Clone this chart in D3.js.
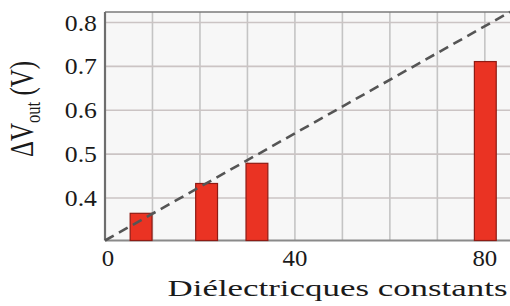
<!DOCTYPE html>
<html>
<head>
<meta charset="utf-8">
<script src="https://cdn.jsdelivr.net/npm/d3@7"></script>
<style>
  body { margin: 0; background: #fff; }
</style>
</head>
<body>
<svg id="chart" width="510" height="306"></svg>
<script>
// dielectric constant of each sample and the measured output shift
var constants = [7.6, 21.4, 32, 80.1];
var deltaV = [0.365, 0.433, 0.479, 0.711];
// dashed guide line, two ends
var trendX = [0, 85.3];
var trendY = [0.303, 0.824];
var xTicks = [0, 40, 80];
var xGrid = [10, 20, 30, 40, 50, 60, 70, 80];
var yTicks = [0.4, 0.5, 0.6, 0.7, 0.8];
var barWidth = 4.6;

var serif = "Liberation Serif";
var svg = d3.select('#chart');
var x = d3.scaleLinear().domain([0, 85.3]).range([105, 510]);
var y = d3.scaleLinear().domain([0.303, 0.824]).range([240.5, 12]);

// plot background
svg.append('rect').attr('x', x(0)).attr('y', y(0.824))
  .attr('width', x(85.3) - x(0)).attr('height', y(0.303) - y(0.824))
  .attr('fill', '#f7f7f7');

// grid
svg.selectAll('.vg').data(xGrid).enter().append('line')
  .attr('x1', function(d){ return x(d); }).attr('x2', function(d){ return x(d); })
  .attr('y1', y(0.824)).attr('y2', y(0.303))
  .attr('stroke', '#c4c4c4').attr('stroke-width', 1.6);
svg.selectAll('.hg').data(yTicks).enter().append('line')
  .attr('x1', x(0)).attr('x2', x(85.3))
  .attr('y1', function(d){ return y(d); }).attr('y2', function(d){ return y(d); })
  .attr('stroke', '#cbc4c4').attr('stroke-width', 1.6);

// frame
svg.append('line').attr('x1', x(0)).attr('x2', x(85.3)).attr('y1', y(0.824)).attr('y2', y(0.824))
  .attr('stroke', '#7a7a7a').attr('stroke-width', 1.5);
svg.append('line').attr('x1', x(0)).attr('x2', x(85.3)).attr('y1', y(0.303)).attr('y2', y(0.303))
  .attr('stroke', '#8a8a8a').attr('stroke-width', 2);
svg.append('line').attr('x1', x(0)).attr('x2', x(0)).attr('y1', y(0.824)).attr('y2', y(0.303))
  .attr('stroke', '#6e6e6e').attr('stroke-width', 2.2);

// bars
svg.selectAll('.bar').data(constants).enter().append('rect')
  .attr('x', function(d){ return x(d - barWidth / 2); })
  .attr('width', x(barWidth) - x(0))
  .attr('y', function(d, i){ return y(deltaV[i]); })
  .attr('height', function(d, i){ return y(0.303) - y(deltaV[i]); })
  .attr('fill', '#ea3323').attr('stroke', '#8e1b14').attr('stroke-width', 1.2);

// dashed line
var pts = trendX.map(function(d, i){ return [d, trendY[i]]; });
svg.append('path').datum(pts)
  .attr('d', d3.line().x(function(d){ return x(d[0]); }).y(function(d){ return y(d[1]); }))
  .attr('fill', 'none').attr('stroke', '#555').attr('stroke-width', 2.6)
  .attr('stroke-dasharray', '10,6');

// tick labels
svg.selectAll('.yt').data(yTicks).enter().append('text')
  .attr('text-anchor', 'end').attr('font-size', 23).attr('font-family', serif).attr('fill', '#1a1a1a')
  .attr('transform', function(d){ return 'translate(97,' + (y(d) + 8) + ') scale(1.12,1)'; })
  .text(function(d){ return d3.format('.1f')(d); });
svg.selectAll('.xt').data(xTicks).enter().append('text')
  .attr('text-anchor', 'middle').attr('font-size', 23).attr('font-family', serif).attr('fill', '#1a1a1a')
  .attr('transform', function(d){ return 'translate(' + (x(d) + (d === 0 ? 3 : 0)) + ',266) scale(1.08,1)'; })
  .text(function(d){ return d; });

// axis titles
var xt = svg.append('text').attr('font-size', 24).attr('text-anchor', 'middle')
  .attr('font-family', serif).attr('fill', '#1a1a1a')
  .text('Diélectricques constants');
var xw = xt.node().getComputedTextLength();
xt.attr('transform', 'translate(337.5,296) scale(' + (340 / xw) + ',1)');

var yt = svg.append('text').attr('font-size', 33).attr('text-anchor', 'middle')
  .attr('font-family', serif).attr('fill', '#1a1a1a');
yt.append('tspan').text('ΔV');
yt.append('tspan').attr('font-size', 22).attr('dy', 7).text('out');
yt.append('tspan').attr('dy', -7).text(' (V)');
var yw = yt.node().getComputedTextLength();
yt.attr('transform', 'translate(33,109) rotate(-90) scale(' + (96 / yw) + ',1)');
</script>
</body>
</html>
